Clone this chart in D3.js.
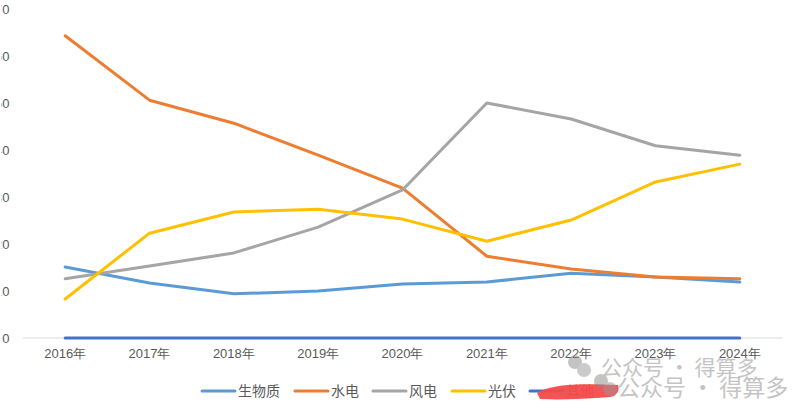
<!DOCTYPE html>
<html><head><meta charset="utf-8">
<script src="https://cdn.jsdelivr.net/npm/d3@7"></script>
<style>body{margin:0;background:#fff;}svg{display:block;font-family:"Noto Sans CJK SC","Noto Sans",sans-serif;}</style>
</head><body><svg id="c" width="810" height="420"></svg>
<script>
const years = ["2016年","2017年","2018年","2019年","2020年","2021年","2022年","2023年","2024年"];
const yTicks = [0,10,20,30,40,50,60,70];
const seriesNames = ["生物质","水电","风电","光伏","其他"];
const seriesColors = ["#5B9BD5","#ED7D31","#A5A5A5","#FFC000","#4472C4"];
const biomass = [15.1,11.7,9.4,10.0,11.5,11.9,13.8,13.0,11.9];
const hydro   = [64.3,50.6,45.7,38.9,31.9,17.4,14.7,13.0,12.6];
const wind    = [12.6,15.3,18.1,23.6,31.5,50.0,46.6,40.9,38.9];
const solar   = [8.3,22.3,26.8,27.4,25.3,20.6,25.1,33.2,37.0];
const other   = [0,0,0,0,0,0,0,0,0];
const seriesValues = [biomass,hydro,wind,solar,other];

const svg = d3.select("#c");
const x = d3.scaleBand().domain(years).range([23,782]);
const y = d3.scaleLinear().domain([0,70]).range([338,9]);

// y axis labels (cut off at left edge, as in the source image)
svg.append("clipPath").attr("id","yclip").append("rect").attr("x",1.5).attr("y",0).attr("width",30).attr("height",420);
const yAxis = d3.axisLeft(y).tickValues(yTicks).tickSize(0).tickPadding(0);
const gy = svg.append("g").attr("clip-path","url(#yclip)").append("g").attr("transform","translate(9.5,0)").call(yAxis);
gy.select(".domain").remove();
gy.selectAll("text").attr("fill","#595959").style("font-size","13px").style("font-family","Liberation Sans, Arial, sans-serif");

// baseline
svg.append("line").attr("x1",23).attr("x2",782).attr("y1",y(0)).attr("y2",y(0)).attr("stroke","#D9D9D9").attr("stroke-width",1);

// x axis labels
const xAxis = d3.axisBottom(x).tickSize(0).tickPadding(11);
const gx = svg.append("g").attr("transform",`translate(0,${y(0)})`).call(xAxis);
gx.select(".domain").remove();
gx.selectAll("text").attr("fill","#595959").style("font-size","13px");

const line = d3.line().x((d,i)=>x(years[i])+x.bandwidth()/2).y(d=>y(d));
seriesValues.forEach((vals,k)=>{
  svg.append("path").datum(vals).attr("d",line).attr("fill","none")
    .attr("stroke",seriesColors[k]).attr("stroke-width",3).attr("stroke-linejoin","round").attr("stroke-linecap","round");
});

// legend
const legX = [202,295,373,452,530];
seriesNames.forEach((n,k)=>{
  const g = svg.append("g").attr("transform",`translate(${legX[k]},391)`);
  g.append("line").attr("x1",0).attr("x2",33).attr("stroke",seriesColors[k]).attr("stroke-width",3).attr("stroke-linecap","round");
  g.append("text").attr("x",36).attr("y",5).attr("fill","#595959").style("font-size","14px").text(n);
});

// red scribble over last legend label
svg.append("path").attr("d","M537,393 C550,384 580,383 618,385 C620,390 617,396 610,397 C585,399 560,400 540,399 Z")
  .attr("fill","#F44B4B").attr("opacity",0.95);

// watermarks
function wm(cx,cy,tx,ty,fs){
  const g = svg.append("g").attr("opacity",0.5);
  g.append("circle").attr("cx",cx).attr("cy",cy).attr("r",7).attr("fill","#888");
  g.append("circle").attr("cx",cx+9).attr("cy",cy+8).attr("r",7).attr("fill","#999");
  g.append("text").attr("x",tx).attr("y",ty).attr("fill","#8a8a8a").style("font-size",fs+"px").text("公众号 · 得算多");
}
wm(575,362,601,375,21);
wm(601,381,617,396,23);
</script></body></html>
